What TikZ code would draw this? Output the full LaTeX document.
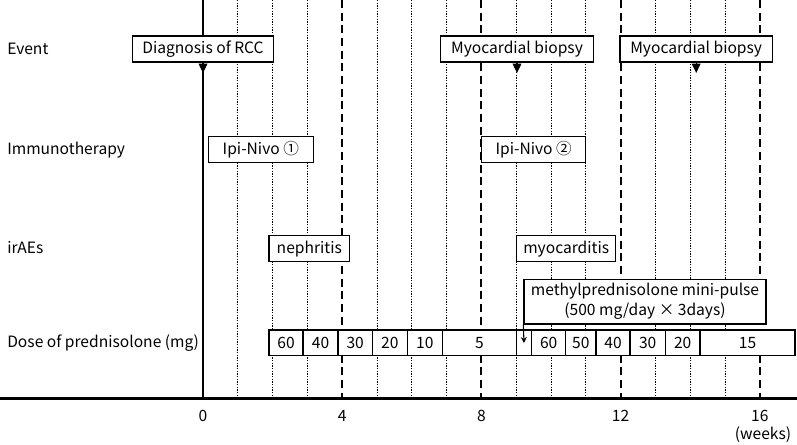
\documentclass[tikz,border=0pt]{standalone}
\usepackage{fontspec}
\setmainfont{Noto Sans CJK JP}
\usetikzlibrary{arrows.meta}

\begin{document}
\begin{tikzpicture}[x=0.75pt, y=-0.75pt, font=\fontsize{11.7}{15}\selectfont]
\tikzstyle{box1}=[rectangle, draw, fill=white, line width=1pt, minimum height=19.5pt, inner sep=0pt]
\tikzstyle{dose}=[box1, minimum height=19pt, outer sep=0pt]
\tikzstyle{rowlabel}=[anchor=west, inner sep=0pt]
\tikzstyle{evarrow}=[-{Triangle[length=7pt,width=6.5pt]}, line width=1pt]
\tikzstyle{mparrow}=[-{Stealth[length=4.5pt,width=4.5pt]}, line width=0.8pt]
\tikzstyle{dotline}=[line width=0.7pt, dash pattern=on 1pt off 1pt]
\tikzstyle{dashline}=[line width=1.6pt, dash pattern=on 6pt off 3.5pt]
\useasboundingbox (0,0) rectangle (797,444);

\draw [dotline] (237.8,0) -- (237.8,398) (272.6,0) -- (272.6,398) (307.4,0) -- (307.4,398)
  (377,0) -- (377,398) (411.8,0) -- (411.8,398) (446.6,0) -- (446.6,398)
  (516.2,0) -- (516.2,398) (551,0) -- (551,398) (585.8,0) -- (585.8,398)
  (655.4,0) -- (655.4,398) (690.2,0) -- (690.2,398) (725,0) -- (725,398);
\draw [dashline] (342.2,0) -- (342.2,398) (481.4,0) -- (481.4,398) (620.6,0) -- (620.6,398) (759.8,0) -- (759.8,398);
\draw [line width=1.6pt] (203,0) -- (203,398);
\draw [line width=2.2pt] (0,398.5) -- (797,398.5);

\node (ev) [rowlabel] at (7,49) {Event};
\node (imm) [rowlabel] at (7,150) {Immunotherapy};
\node (irae) [rowlabel] at (7,248) {irAEs};
\node (doselab) [rowlabel] at (7,343) {Dose of prednisolone (mg)};

\node (diag) [box1, minimum width=106pt] at (203,49) {Diagnosis of RCC};
\node (bx1) [box1, minimum width=114.4pt] at (517,49) {Myocardial biopsy};
\node (bx2) [box1, minimum width=114.4pt] at (696.2,49) {Myocardial biopsy};
\node (ipi1) [box1, minimum width=78.8pt] at (260.8,149.7) {Ipi-Nivo ①};
\node (ipi2) [box1, minimum width=78pt] at (533.7,149.7) {Ipi-Nivo ②};
\node (nephr) [box1, minimum width=60.5pt] at (309.3,248.8) {nephritis};
\node (myoc) [box1, minimum width=74.3pt] at (566.2,248.8) {myocarditis};

\node (d1) [dose, minimum width=25.5pt] at (286,342.7) {60};
\node (d2) [dose, minimum width=26.25pt] at (320.5,342.7) {40};
\node (d3) [dose, minimum width=25.7pt] at (355.2,342.7) {30};
\node (d4) [dose, minimum width=26.25pt] at (389.8,342.7) {20};
\node (d5) [dose, minimum width=26.25pt] at (424.8,342.7) {10};
\node (d6) [dose, minimum width=55.8pt] at (479.5,342.7) {5};
\node (d7) [dose, minimum width=11.25pt] at (524.2,342.7) {};
\node (d8) [dose, minimum width=25.5pt] at (548.7,342.7) {60};
\node (d9) [dose, minimum width=22.7pt] at (580.9,342.7) {50};
\node (d10) [dose, minimum width=25.5pt] at (613,342.7) {40};
\node (d11) [dose, minimum width=26.5pt] at (647.7,342.7) {30};
\node (d12) [dose, minimum width=26pt] at (682.7,342.7) {20};
\node (d13) [dose, minimum width=71.25pt] at (747.5,342.7) {15};

\node (mpulse) [box1, minimum width=181.5pt, minimum height=33.5pt, align=center] at (645,301.7)
  {methylprednisolone mini-pulse\\(500 mg/day × 3days)};

\node (ax0) at (203,416) {0};
\node (ax4) at (342.2,416) {4};
\node (ax8) at (481.4,416) {8};
\node (ax12) at (620.6,416) {12};
\node (ax16) at (759.8,416) {16};
\node (weeks) at (763,435) {(weeks)};

\coordinate (diagtip) at (203,73);
\coordinate (bx1tip) at (517,73);
\coordinate (bx2tip) at (696.2,73);
\coordinate (mptip) at (524,343);
\draw [evarrow] (diag.south) -- (diagtip);
\draw [evarrow] (bx1.south) -- (bx1tip);
\draw [evarrow] (bx2.south) -- (bx2tip);
\draw [mparrow] (mpulse.south west) -- (mptip);

\end{tikzpicture}
\end{document}
